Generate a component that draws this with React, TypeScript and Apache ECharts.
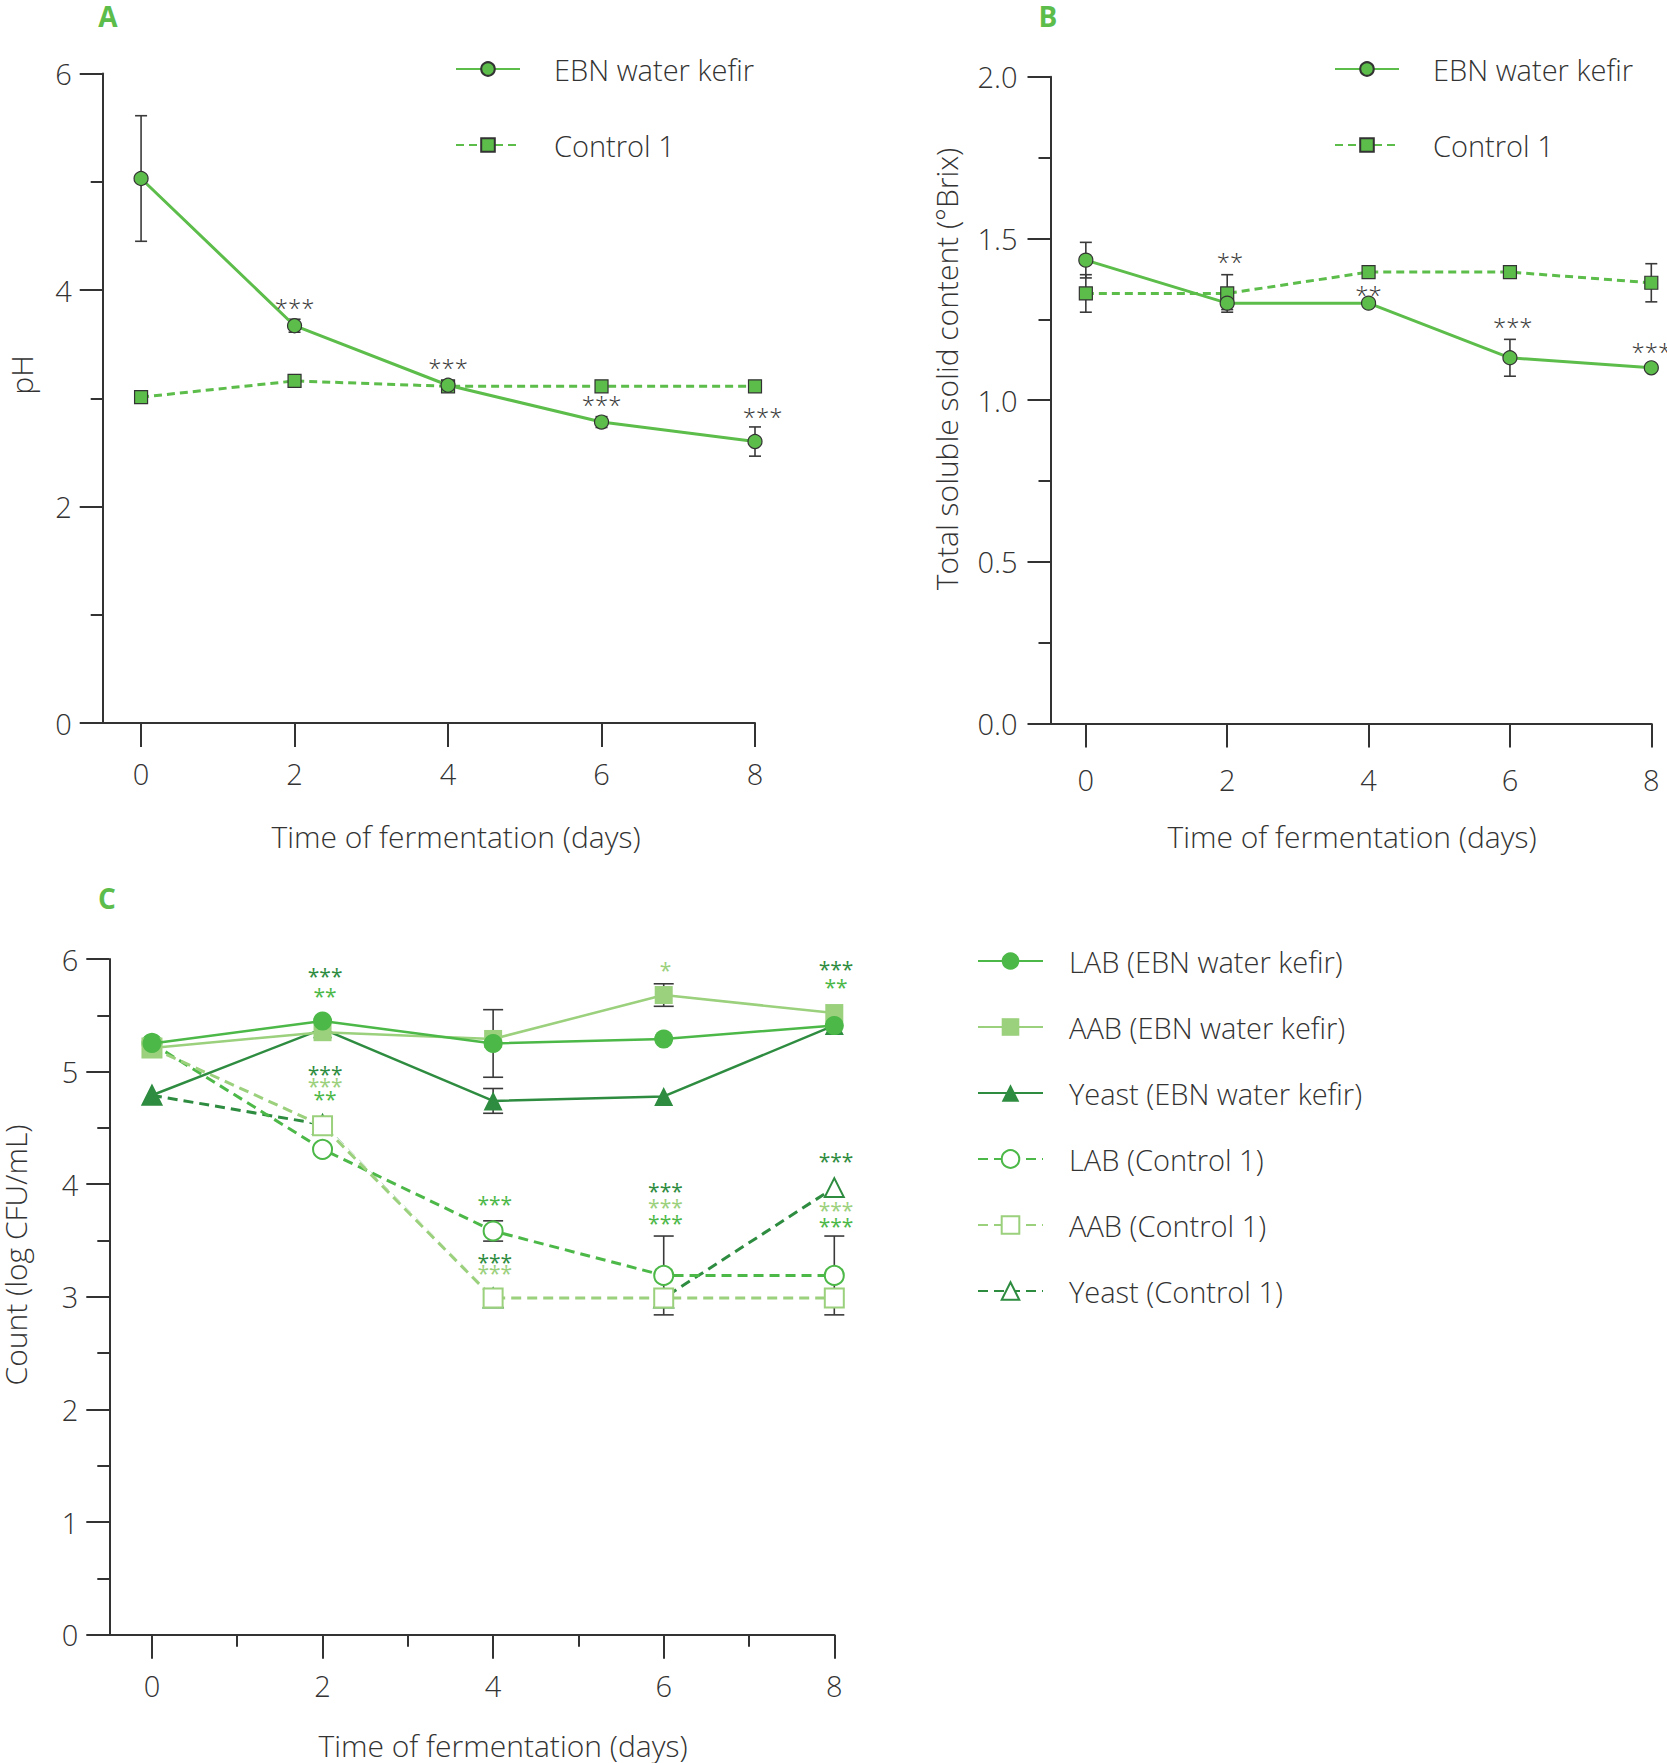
import React, { useEffect, useRef } from 'react';
import * as echarts from 'echarts';

const FONT = '"Open Sans", "Noto Sans", sans-serif';
const W = 300;
const INK = '#333333';
const GREEN = '#5cbd4a';
const LAB_C = '#4cb848';
const AAB_C = '#9bd07c';
const YEAST_C = '#2e8c40';

// ---------- data ----------
const days = [0, 2, 4, 6, 8];
const xTickDays = [0, 2, 4, 6, 8];
const xMinorDays = [1, 3, 5, 7];

// Panel A: pH
const phEBN = [5.03, 3.67, 3.12, 2.78, 2.6];
const phEBNErr = [0.58, 0.06, 0.0, 0.05, 0.135];
const phCtrl = [3.01, 3.16, 3.11, 3.11, 3.11];

// Panel B: total soluble solids (°Brix)
const brixEBN = [1.433, 1.3, 1.3, 1.131, 1.1];
const brixEBNErr = [0.055, 0.02, 0.0, 0.057, 0.0];
const brixCtrl = [1.33, 1.33, 1.396, 1.396, 1.363];
const brixCtrlErr = [0.058, 0.058, 0.0, 0.0, 0.059];

// Panel C: counts (log CFU/mL)
const labEBN = [5.25, 5.45, 5.25, 5.29, 5.41];
const labEBNErr = [0, 0, 0.3, 0, 0];
const aabEBN = [5.21, 5.35, 5.29, 5.68, 5.52];
const aabEBNErr = [0, 0, 0, 0.1, 0];
const yeastEBN = [4.79, 5.38, 4.74, 4.78, 5.41];
const yeastEBNErr = [0, 0, 0.11, 0, 0];
const labCtrl = [5.25, 4.31, 3.585, 3.19, 3.19];
const labCtrlErr = [0, 0, 0.09, 0.35, 0.35];
const aabCtrl = [5.21, 4.52, 2.99, 2.99, 2.99];
const yeastCtrl = [4.79, 4.53, 2.99, 2.99, 3.97];

// significance marks [day, y, text, colour key]
const starsA = [
  [2, 3.88, '***'],
  [4, 3.32, '***'],
  [6, 2.98, '***'],
  [8.1, 2.87, '***'],
];
const starsB = [
  [2.04, 1.44, '**'],
  [4, 1.34, '**'],
  [6.04, 1.24, '***'],
  [8, 1.162, '***'],
];
const starsC = [
  [2.03, 5.88, '***', 'yeast'],
  [2.03, 5.7, '**', 'lab'],
  [2.03, 5.01, '***', 'yeast'],
  [2.03, 4.9, '***', 'aab'],
  [2.03, 4.79, '**', 'lab'],
  [4.02, 3.855, '***', 'lab'],
  [4.02, 3.34, '***', 'yeast'],
  [4.02, 3.24, '***', 'aab'],
  [6.02, 5.93, '*', 'aab'],
  [6.02, 3.97, '***', 'yeast'],
  [6.02, 3.83, '***', 'aab'],
  [6.02, 3.69, '***', 'lab'],
  [8.02, 5.94, '***', 'yeast'],
  [8.02, 5.78, '**', 'lab'],
  [8.02, 4.24, '***', 'yeast'],
  [8.02, 3.8, '***', 'aab'],
  [8.02, 3.66, '***', 'lab'],
];
const starColors: Record<string, string> = { lab: LAB_C, aab: AAB_C, yeast: YEAST_C };

// ---------- helpers ----------
const pts = (vals: number[]) => days.map((d, i) => [d, vals[i]]);
const errs = (vals: number[], e: number[]) =>
  days.map((d, i) => [d, vals[i] - e[i], vals[i] + e[i]]).filter((_, i) => e[i] > 0);

const axisLineStyle = { color: INK, width: 2 };

function xAxisMain(gridIndex: number, margin: number) {
  return {
    type: 'value',
    gridIndex,
    min: -0.5,
    max: 8,
    position: 'bottom',
    axisLine: { show: true, onZero: false, lineStyle: axisLineStyle },
    axisTick: { show: true, length: 24, customValues: xTickDays, lineStyle: axisLineStyle },
    axisLabel: {
      customValues: xTickDays,
      margin,
      fontSize: 29,
      fontFamily: FONT,
      fontWeight: W,
      color: INK,
    },
    splitLine: { show: false },
  };
}

function yAxisCfg(gridIndex: number, max: number, interval: number, fmt: (v: number) => string, margin: number) {
  return {
    type: 'value',
    gridIndex,
    min: 0,
    max,
    interval,
    axisLine: { show: true, onZero: false, lineStyle: axisLineStyle },
    axisTick: { show: true, length: 23, lineStyle: axisLineStyle },
    minorTick: { show: true, splitNumber: 2, length: 12, lineStyle: axisLineStyle },
    axisLabel: { margin, fontSize: 29, fontFamily: FONT, fontWeight: W, color: INK, formatter: fmt },
    splitLine: { show: false },
    minorSplitLine: { show: false },
  };
}

function errSeries(xi: number, yi: number, data: number[][], cap: number, z = 1) {
  return {
    type: 'custom',
    xAxisIndex: xi,
    yAxisIndex: yi,
    z,
    silent: true,
    clip: false,
    encode: { x: 0, y: [1, 2] },
    data,
    renderItem: (_p: any, api: any) => {
      const x = api.value(0);
      const top = api.coord([x, api.value(2)]);
      const bot = api.coord([x, api.value(1)]);
      const st = { stroke: '#3a3a3a', lineWidth: 1.6 };
      return {
        type: 'group',
        children: [
          { type: 'line', shape: { x1: top[0], y1: top[1], x2: bot[0], y2: bot[1] }, style: st },
          { type: 'line', shape: { x1: top[0] - cap / 2, y1: top[1], x2: top[0] + cap / 2, y2: top[1] }, style: st },
          { type: 'line', shape: { x1: bot[0] - cap / 2, y1: bot[1], x2: bot[0] + cap / 2, y2: bot[1] }, style: st },
        ],
      };
    },
  };
}

function starSeries(xi: number, yi: number, list: any[], size: number, defColor: string, weight: number | string) {
  return {
    type: 'custom',
    xAxisIndex: xi,
    yAxisIndex: yi,
    z: 10,
    silent: true,
    clip: false,
    encode: { x: 0, y: 1 },
    data: list.map((s) => [s[0], s[1]]),
    renderItem: (p: any, api: any) => {
      const s = list[p.dataIndex];
      const c = api.coord([api.value(0), api.value(1)]);
      return {
        type: 'text',
        x: c[0],
        y: c[1] + size * 0.17,
        style: {
          text: s[2],
          fill: s[3] ? starColors[s[3]] : defColor,
          font: `${weight} ${size}px ${FONT}`,
          align: 'center',
          verticalAlign: 'middle',
        },
      };
    },
  };
}

const titleText = (text: string, x: number, y: number, rot = 0) => ({
  type: 'text',
  x,
  y,
  rotation: rot,
  silent: true,
  style: {
    text,
    fill: INK,
    font: `${W} 30px ${FONT}`,
    lineHeight: 28,
    align: 'center',
    verticalAlign: 'middle',
  },
});

const panelLetter = (text: string, x: number, y: number) => ({
  type: 'text',
  x,
  y,
  silent: true,
  style: {
    text,
    fill: GREEN,
    font: `bold 28px ${FONT}`,
    lineHeight: 28,
    align: 'center',
    verticalAlign: 'middle',
  },
});

function buildOption() {
  const legendText = (pad: number) => ({
    fontSize: 29,
    fontFamily: FONT,
    fontWeight: W,
    color: INK,
    lineHeight: 30,
    padding: [0, 0, 0, pad],
  });

  return {
    animation: false,
    backgroundColor: '#ffffff',
    grid: [
      { left: 102.7, top: 73.5, width: 652.3, height: 649.5 },
      { left: 1050.5, top: 76.8, width: 600.8, height: 646.7 },
      { left: 109.3, top: 959, width: 725, height: 675.7 },
    ],
    xAxis: [
      xAxisMain(0, 36),
      xAxisMain(1, 41),
      xAxisMain(2, 36),
      {
        type: 'value',
        gridIndex: 2,
        min: -0.5,
        max: 8,
        position: 'bottom',
        axisLine: { show: false },
        axisTick: { show: true, length: 12, customValues: xMinorDays, lineStyle: axisLineStyle },
        axisLabel: { show: false, customValues: xMinorDays },
        splitLine: { show: false },
      },
    ],
    yAxis: [
      yAxisCfg(0, 6, 2, (v: number) => String(v), 31),
      yAxisCfg(1, 2, 0.5, (v: number) => v.toFixed(1), 33),
      yAxisCfg(2, 6, 1, (v: number) => String(v), 31),
    ],
    legend: [
      {
        orient: 'vertical',
        left: 450,
        top: 49,
        itemWidth: 64,
        itemHeight: 17,
        itemGap: 46,
        selectedMode: false,
        data: ['EBN water kefir', 'Control 1'],
        textStyle: legendText(29),
      },
      {
        orient: 'vertical',
        left: 1329,
        top: 49,
        itemWidth: 64,
        itemHeight: 17,
        itemGap: 46,
        selectedMode: false,
        data: ['EBN water kefir', 'Control 1'],
        textStyle: legendText(29),
      },
      {
        orient: 'vertical',
        left: 972,
        top: 941,
        itemWidth: 65,
        itemHeight: 22,
        itemGap: 36,
        selectedMode: false,
        data: [
          'LAB (EBN water kefir)',
          'AAB (EBN water kefir)',
          'Yeast (EBN water kefir)',
          'LAB (Control 1)',
          'AAB (Control 1)',
          'Yeast (Control 1)',
        ],
        textStyle: legendText(21),
      },
    ],
    graphic: [
      panelLetter('A', 108, 16),
      panelLetter('B', 1048, 16),
      panelLetter('C', 107, 898),
      titleText('pH', 21, 375, Math.PI / 2),
      titleText('Total soluble solid content (°Brix)', 946, 369, Math.PI / 2),
      titleText('Count (log CFU/mL)', 15, 1255, Math.PI / 2),
      titleText('Time of fermentation (days)', 456, 836),
      titleText('Time of fermentation (days)', 1352, 836),
      titleText('Time of fermentation (days)', 503, 1745),
    ],
    series: [
      // ---- A ----
      errSeries(0, 0, errs(phEBN, phEBNErr), 12),
      {
        name: 'Control 1',
        type: 'line',
        xAxisIndex: 0,
        yAxisIndex: 0,
        data: pts(phCtrl),
        symbol: 'rect',
        symbolSize: 13,
        lineStyle: { color: GREEN, width: 3, type: [8, 5] },
        itemStyle: { color: GREEN, borderColor: INK, borderWidth: 1.2 },
        z: 3,
      },
      {
        name: 'EBN water kefir',
        type: 'line',
        xAxisIndex: 0,
        yAxisIndex: 0,
        data: pts(phEBN),
        symbol: 'circle',
        symbolSize: 14,
        lineStyle: { color: GREEN, width: 3 },
        itemStyle: { color: GREEN, borderColor: INK, borderWidth: 1.2 },
        z: 4,
      },
      starSeries(0, 0, starsA, 24, INK, W),
      // ---- B ----
      errSeries(1, 1, errs(brixEBN, brixEBNErr), 12),
      errSeries(1, 1, errs(brixCtrl, brixCtrlErr), 12),
      {
        name: 'Control 1',
        type: 'line',
        xAxisIndex: 1,
        yAxisIndex: 1,
        data: pts(brixCtrl),
        symbol: 'rect',
        symbolSize: 13,
        lineStyle: { color: GREEN, width: 3, type: [8, 5] },
        itemStyle: { color: GREEN, borderColor: INK, borderWidth: 1.2 },
        z: 3,
      },
      {
        name: 'EBN water kefir',
        type: 'line',
        xAxisIndex: 1,
        yAxisIndex: 1,
        data: pts(brixEBN),
        symbol: 'circle',
        symbolSize: 14,
        lineStyle: { color: GREEN, width: 3 },
        itemStyle: { color: GREEN, borderColor: INK, borderWidth: 1.2 },
        z: 4,
      },
      starSeries(1, 1, starsB, 24, INK, W),
      // ---- C ----
      errSeries(2, 2, errs(labEBN, labEBNErr), 20),
      errSeries(2, 2, errs(aabEBN, aabEBNErr), 20),
      errSeries(2, 2, errs(yeastEBN, yeastEBNErr), 20),
      errSeries(2, 2, errs(labCtrl, labCtrlErr), 20),
      {
        name: 'Yeast (Control 1)',
        type: 'line',
        xAxisIndex: 2,
        yAxisIndex: 2,
        data: pts(yeastCtrl),
        symbol: 'emptyTriangle',
        symbolSize: 19,
        lineStyle: { color: YEAST_C, width: 3, type: [10, 6] },
        itemStyle: { color: YEAST_C, borderColor: YEAST_C, borderWidth: 2 },
        z: 2,
      },
      {
        // white underlay along the AAB control path, hides the coincident yeast line
        type: 'line',
        xAxisIndex: 2,
        yAxisIndex: 2,
        data: pts(aabCtrl),
        symbol: 'none',
        silent: true,
        lineStyle: { color: '#ffffff', width: 4 },
        z: 2.5,
      },
      {
        name: 'LAB (Control 1)',
        type: 'line',
        xAxisIndex: 2,
        yAxisIndex: 2,
        data: pts(labCtrl),
        symbol: 'emptyCircle',
        symbolSize: 19,
        lineStyle: { color: LAB_C, width: 3, type: [10, 6] },
        itemStyle: { color: LAB_C, borderColor: LAB_C, borderWidth: 2 },
        z: 3,
      },
      {
        name: 'AAB (Control 1)',
        type: 'line',
        xAxisIndex: 2,
        yAxisIndex: 2,
        data: pts(aabCtrl),
        symbol: 'emptyRect',
        symbolSize: 19,
        lineStyle: { color: AAB_C, width: 3, type: [10, 6] },
        itemStyle: { color: AAB_C, borderColor: AAB_C, borderWidth: 2 },
        z: 3,
      },
      {
        name: 'Yeast (EBN water kefir)',
        type: 'line',
        xAxisIndex: 2,
        yAxisIndex: 2,
        data: pts(yeastEBN),
        symbol: 'triangle',
        symbolSize: 19,
        lineStyle: { color: YEAST_C, width: 2.5 },
        itemStyle: { color: YEAST_C },
        z: 4,
      },
      {
        name: 'AAB (EBN water kefir)',
        type: 'line',
        xAxisIndex: 2,
        yAxisIndex: 2,
        data: pts(aabEBN),
        symbol: 'rect',
        symbolSize: 18,
        lineStyle: { color: AAB_C, width: 2.5 },
        itemStyle: { color: AAB_C },
        z: 4,
      },
      {
        name: 'LAB (EBN water kefir)',
        type: 'line',
        xAxisIndex: 2,
        yAxisIndex: 2,
        data: pts(labEBN),
        symbol: 'circle',
        symbolSize: 19,
        lineStyle: { color: LAB_C, width: 2.5 },
        itemStyle: { color: LAB_C },
        z: 5,
      },
      starSeries(2, 2, starsC, 21, INK, 'normal'),
    ],
  };
}

export default function App() {
  const ref = useRef<HTMLDivElement>(null);
  useEffect(() => {
    if (!ref.current) return;
    const chart = echarts.init(ref.current, undefined, { renderer: 'svg' });
    chart.setOption(buildOption() as any);
    return () => chart.dispose();
  }, []);
  return (
    <div
      ref={ref}
      style={{ position: 'absolute', left: 0, top: 0, width: 1667, height: 1763, background: '#fff' }}
    />
  );
}
